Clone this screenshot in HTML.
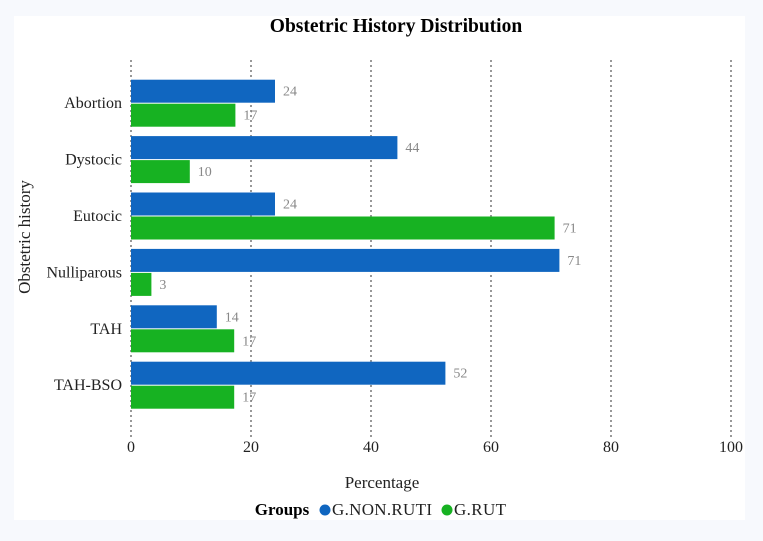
<!DOCTYPE html>
<html><head><meta charset="utf-8"><style>
body{margin:0;background:#f7f9fd;width:763px;height:541px;overflow:hidden;font-family:"Liberation Serif",serif}
#card{position:absolute;left:14px;top:16px;width:731px;height:504px;background:#fff}
</style></head><body>
<div id="card"></div>
<svg id="chart" width="763" height="541" style="position:absolute;left:0;top:0">
<text x="396" y="32" text-anchor="middle" font-weight="bold" font-size="19.5" fill="#000">Obstetric History Distribution</text>
<g id="grid"></g><g id="bars"></g><g id="ylabels"></g><g id="xticks"></g>
<text x="382" y="488" text-anchor="middle" font-size="17" fill="#222">Percentage</text>
<text transform="translate(30,237) rotate(-90)" text-anchor="middle" font-size="17" fill="#222">Obstetric history</text>
<g>
<text x="282" y="515" text-anchor="middle" font-weight="bold" font-size="17">Groups</text>
<g><circle cx="325" cy="510" r="5.5" fill="#1066c0"/><text x="332" y="515" font-size="17" textLength="100" fill="#222">G.NON.RUTI</text></g>
<g><circle cx="447" cy="510" r="5.5" fill="#17b222"/><text x="454" y="515" font-size="17" textLength="52" fill="#222">G.RUT</text></g>
</g>
</svg>
<script>
const categories=["Abortion","Dystocic","Eutocic","Nulliparous","TAH","TAH-BSO"];
const nonRuti=[24,44.4,24,71.4,14.3,52.4];
const rut=[17.4,9.8,70.6,3.4,17.2,17.2];
const xTicks=[0,20,40,60,80,100];
const NS="http://www.w3.org/2000/svg";
const x=v=>131+v*6;
const top0=75,band=56.4;
const yc=i=>top0+band*i+band/2;
function mk(t,a,p){const e=document.createElementNS(NS,t);for(const k in a)e.setAttribute(k,a[k]);p.appendChild(e);return e;}
const grid=document.getElementById('grid'),bars=document.getElementById('bars'),yl=document.getElementById('ylabels'),xt=document.getElementById('xticks');
xTicks.forEach(v=>{
 const l=mk('line',{x1:x(v),x2:x(v),y1:60,y2:438,stroke:'#777','stroke-width':1.5,'stroke-dasharray':'2,3'},grid);
 
 
 const t=mk('text',{x:x(v),y:452,'text-anchor':'middle','font-size':16,fill:'#222'},xt);t.textContent=v;
 
 
});
categories.forEach((c,i)=>{
 const cy=yc(i);
 const t=mk('text',{x:122,y:cy+5,'text-anchor':'end','font-size':16,fill:'#222'},yl);t.textContent=c;
 
 
 [[nonRuti[i],'#1066c0',cy-23.5],[rut[i],'#17b222',cy+0.5]].forEach(([v,col,yy],j)=>{
  const r=mk('rect',{x:x(0),y:yy,width:x(v)-x(0),height:23,fill:col},bars);
  
  
  const lt=mk('text',{x:x(v)+8,y:yy+16,'font-size':14,fill:'#888'},bars);lt.textContent=Math.round(v);
  
  
 });
});
</script>
</body></html>
